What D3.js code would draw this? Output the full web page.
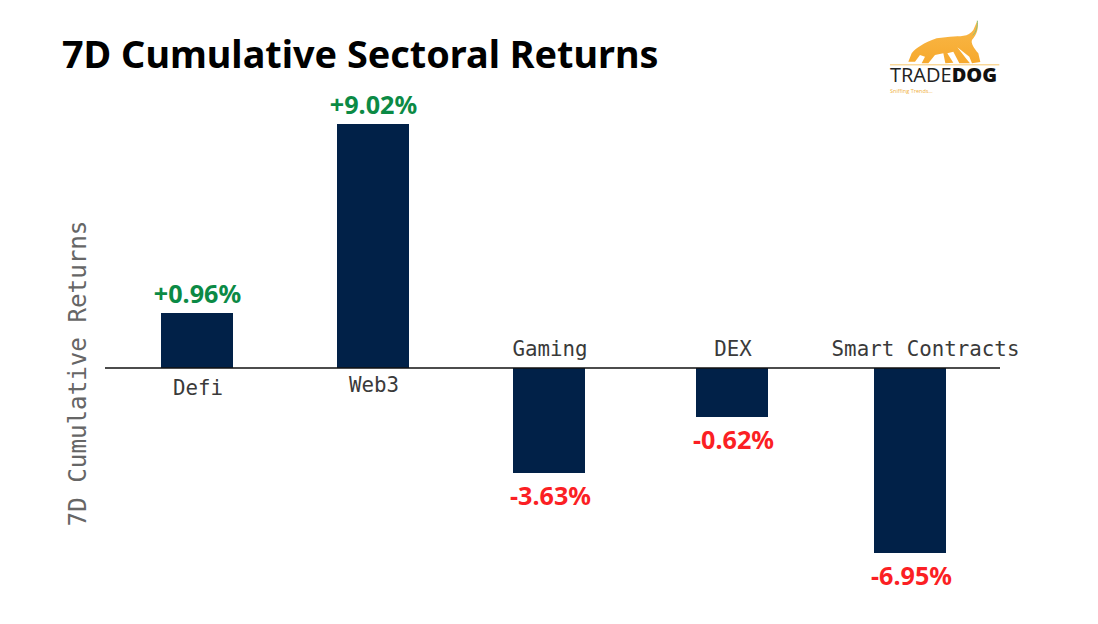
<!DOCTYPE html>
<html><head><meta charset="utf-8">
<script src="https://cdn.jsdelivr.net/npm/d3@7/dist/d3.min.js"></script>
<style>html,body{margin:0;padding:0;background:#fff}svg{display:block}</style>
</head><body><svg id="c" width="1098" height="624"></svg>
<script>
const categories = ["Defi","Web3","Gaming","DEX","Smart Contracts"];
const values = [0.96,9.02,-3.63,-0.62,-6.95];
const labels = ["+0.96%","+9.02%","-3.63%","-0.62%","-6.95%"];
const title = "7D Cumulative Sectoral Returns";
const yTitle = "7D Cumulative Returns";
const navy="#012148", green="#0b8a45", red="#fb1f24", ink="#3a3a3a";

const svg=d3.select("#c");
// The source's bar heights are not proportional to its values, so the scale is piecewise.
const y=d3.scaleLinear().domain([-6.95,-3.63,-0.62,0,0.96,9.02]).range([553,473,417,368,313,124]);
const x=d3.scaleOrdinal().domain(categories).range([197,373,549,732,910]);
const barW=72, mono="'DejaVu Sans Mono','Liberation Mono',monospace", sans="'Noto Sans','Open Sans',sans-serif";

svg.append("text").attr("x",62).attr("y",67.5).attr("font-family",sans).attr("font-weight",700)
  .attr("font-size",37.8).attr("fill","#000").text(title);

svg.selectAll("rect.bar").data(values).join("rect").attr("class","bar")
  .attr("x",(d,i)=>x(categories[i])-barW/2).attr("width",barW)
  .attr("y",d=>Math.min(y(d),y(0))).attr("height",d=>Math.abs(y(d)-y(0))).attr("fill",navy);

svg.append("line").attr("x1",105).attr("x2",1000).attr("y1",y(0)).attr("y2",y(0)).attr("stroke","#111").attr("stroke-width",1.5);

svg.selectAll("text.val").data(values).join("text").attr("class","val")
  .attr("x",(d,i)=>x(categories[i])+(i<2?0.5:1.5)).attr("y",d=>d>=0?y(d)-10:y(d)+32)
  .attr("text-anchor","middle").attr("font-family",sans).attr("font-weight",700).attr("font-size",25.2)
  .attr("fill",d=>d>=0?green:red).text((d,i)=>labels[i]);

svg.selectAll("text.cat").data(values).join("text").attr("class","cat")
  .attr("x",(d,i)=>x(categories[i])+(i==4?15.5:1))
  .attr("y",(d,i)=>d>=0?y(0)+(i==0?27:24):y(0)-12)
  .attr("text-anchor","middle").attr("font-family",mono).attr("font-size",20.8).attr("fill",ink).text((d,i)=>categories[i]);

svg.append("text").attr("transform","translate(86,373.5) rotate(-90)").attr("text-anchor","middle")
  .attr("font-family",mono).attr("font-size",24.2).attr("fill","#666").text(yTitle);

// logo
const grad=svg.append("defs").append("linearGradient").attr("id","dog").attr("x1",0).attr("x2",0).attr("y1",0).attr("y2",1);
grad.append("stop").attr("offset",0).attr("stop-color","#f9b94a");
grad.append("stop").attr("offset",1).attr("stop-color","#f6a92e");
const logo=svg.append("g").attr("transform","translate(870,10) scale(0.3333)");
logo.append("path").attr("fill","url(#dog)").attr("d","M322,32 C326,55 322,72 306,90 C302,100 312,115 325,130 L331,156 L306,160 L298,140 L262,112 L290,148 L300,160 L268,160 L250,125 L232,130 L250,158 L226,160 L220,130 L195,135 L175,160 L155,160 L165,140 L150,135 L135,155 L115,155 L125,130 C140,112 160,100 200,85 L240,80 C270,78 295,82 310,60 Z");
logo.append("path").attr("fill","none").attr("stroke","#8cc07a").attr("stroke-width",3).attr("d","M322,32 C324,48 318,68 308,76");
logo.append("rect").attr("x",60).attr("y",163).attr("width",328).attr("height",3).attr("fill","#f8c76a");
const lt=svg.append("text").attr("x",890).attr("y",81.5).attr("font-family","'Open Sans',sans-serif").attr("font-size",20).attr("fill","#222");
lt.append("tspan").text("TRADE");
lt.append("tspan").attr("font-weight",800).attr("fill","#111").text("DOG");
svg.append("text").attr("x",890).attr("y",93).attr("font-family","'Open Sans',sans-serif").attr("font-size",5.5).attr("fill","#f0b040").text("Sniffing Trends...");
</script></body></html>
